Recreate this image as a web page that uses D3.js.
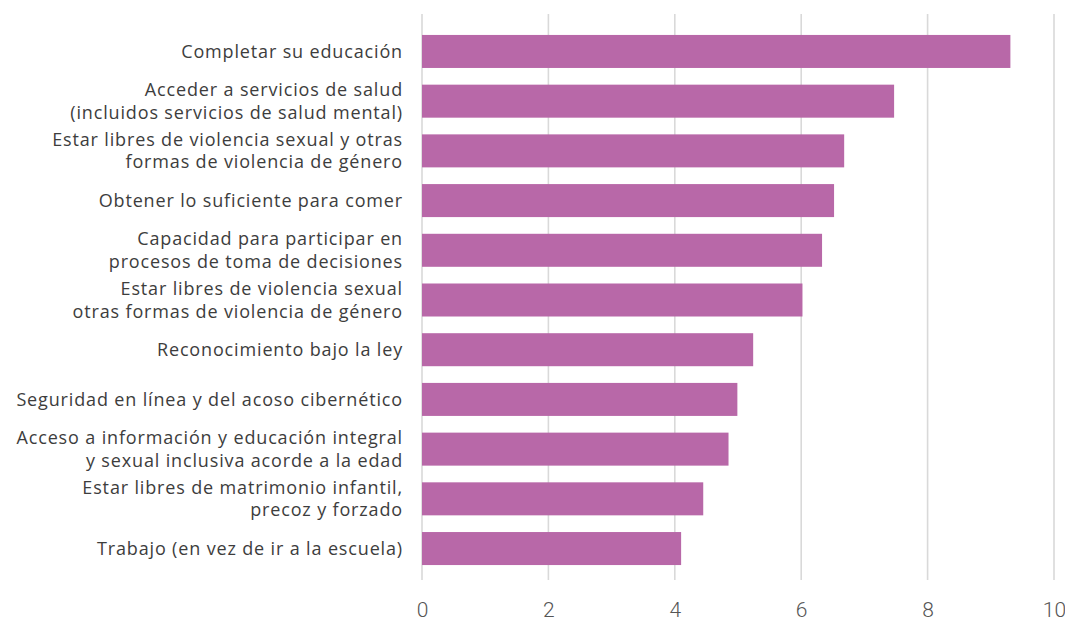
<!DOCTYPE html>
<html>
<head>
<meta charset="utf-8">
<script src="https://cdn.jsdelivr.net/npm/d3@7"></script>
<style>
  html, body { margin: 0; padding: 0; background: #ffffff; }
  svg { display: block; }
</style>
</head>
<body>
<svg id="chart" width="1065" height="619"></svg>
<script>
// Categories, each split into its display lines
const categories = [
  ["Completar su educación"],
  ["Acceder a servicios de salud", "(incluidos servicios de salud mental)"],
  ["Estar libres de violencia sexual y otras", "formas de violencia de género"],
  ["Obtener lo suficiente para comer"],
  ["Capacidad para participar en", "procesos de toma de decisiones"],
  ["Estar libres de violencia sexual", "otras formas de violencia de género"],
  ["Reconocimiento bajo la ley"],
  ["Seguridad en línea y del acoso cibernético"],
  ["Acceso a información y educación integral", "y sexual inclusiva acorde a la edad"],
  ["Estar libres de matrimonio infantil,", "precoz y forzado"],
  ["Trabajo (en vez de ir a la escuela)"]
];
const values = [9.31, 7.47, 6.68, 6.52, 6.33, 6.02, 5.24, 4.99, 4.85, 4.45, 4.10];
const xTicks = [0, 2, 4, 6, 8, 10];

const svg = d3.select("#chart");
const font = "'Open Sans', 'Noto Sans', sans-serif";

const x = d3.scaleLinear().domain([0, 10]).range([422, 1054]);
const keys = categories.map((c, i) => i);
const y = d3.scaleBand()
  .domain(keys)
  .range([26.6, 573.4])
  .paddingInner(0.336)
  .paddingOuter(0.168);

// vertical gridlines
svg.append("g")
  .selectAll("line")
  .data(xTicks)
  .join("line")
  .attr("x1", d => x(d))
  .attr("x2", d => x(d))
  .attr("y1", 14)
  .attr("y2", 580)
  .attr("stroke", "#d9d9d9")
  .attr("stroke-width", 1.6);

// bars
svg.append("g")
  .selectAll("rect")
  .data(values)
  .join("rect")
  .attr("x", x(0))
  .attr("y", (d, i) => y(i))
  .attr("width", d => x(d) - x(0))
  .attr("height", y.bandwidth())
  .attr("fill", "#b868a8");

// x axis tick labels
const xAxis = d3.axisBottom(x).tickValues(xTicks).tickSize(0).tickPadding(0);
const gx = svg.append("g").attr("transform", "translate(0,617)").call(xAxis);
gx.select(".domain").remove();
gx.selectAll("text")
  .attr("font-family", "Roboto, 'Open Sans', sans-serif")
  .attr("font-weight", 300)
  .attr("font-size", 21)
  .attr("fill", "#555555")
  .attr("dy", null)
  .attr("y", 0);

// category labels, right-aligned and centred on each bar
const lineH = 22.5;
const labels = svg.append("g")
  .selectAll("text")
  .data(categories)
  .join("text")
  .attr("text-anchor", "end")
  .attr("font-family", font)
  .attr("font-size", 18)
  .attr("letter-spacing", 0.85)
  .attr("fill", "#3d3d3d");

labels.each(function(lines, i) {
  const cy = y(i) + y.bandwidth() / 2;
  const first = cy - (lines.length - 1) * lineH / 2;
  d3.select(this).selectAll("tspan")
    .data(lines)
    .join("tspan")
    .attr("x", 403)
    .attr("y", (d, j) => first + j * lineH)
    .attr("dy", "0.35em")
    .text(d => d);
});
</script>
</body>
</html>
